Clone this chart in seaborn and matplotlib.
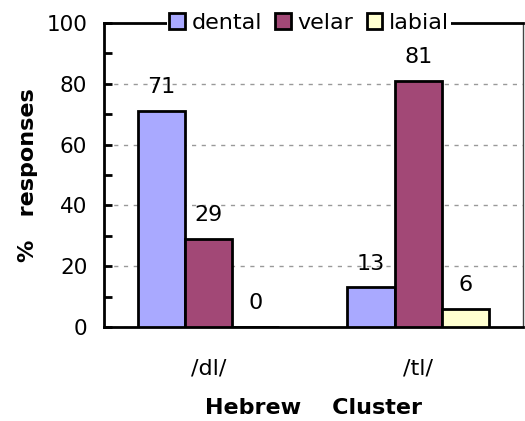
import matplotlib
matplotlib.use("Agg")
import matplotlib.pyplot as plt
import pandas as pd
import seaborn as sns
from matplotlib.ticker import MultipleLocator

# data
clusters = ["/dl/", "/tl/"]
responses = ["dental", "velar", "labial"]
dental = [71, 13]
velar = [29, 81]
labial = [0, 6]
colors = ["#A9A9FF", "#A24876", "#FFFFD0"]

df = pd.DataFrame({
    "cluster": clusters * 3,
    "response": [r for r in responses for _ in clusters],
    "pct": dental + velar + labial,
})

sns.set_style("white")
plt.rcParams["font.family"] = ["DejaVu Sans"]
plt.rcParams["text.color"] = "black"
plt.rcParams["axes.labelcolor"] = "black"
plt.rcParams["xtick.color"] = "black"
plt.rcParams["ytick.color"] = "black"

fig = plt.figure(figsize=(5.25, 4.21), dpi=100)
ax = fig.add_axes([0.198, 0.2233, 0.798, 0.7221])

sns.barplot(
    data=df, x="cluster", y="pct", hue="response",
    hue_order=responses, palette=colors,
    width=0.675, gap=0, edgecolor="black", linewidth=2,
    saturation=1, ax=ax, zorder=3,
)

for cont in ax.containers:
    ax.bar_label(cont, fmt="%d", padding=10, fontsize=16, color="black")

ax.set_ylim(0, 100)
ax.set_xlim(-0.5, 1.5)
ax.yaxis.set_major_locator(MultipleLocator(20))
ax.yaxis.set_minor_locator(MultipleLocator(10))
ax.set_xticks([0, 1])
ax.set_xticklabels(clusters, fontsize=16)
ax.set_xticks([-0.5, 0.5, 1.5], minor=True)
ax.tick_params(axis="x", which="major", length=0, pad=23)
ax.tick_params(axis="x", which="minor", direction="out", length=8, width=2)
ax.tick_params(axis="y", which="both", direction="in", length=6, width=2,
               labelsize=15.5, left=True, pad=12)

ax.yaxis.grid(True, linestyle=(0, (3, 4)), color="#999999", linewidth=1, zorder=0)
ax.set_axisbelow(True)

for side in ["left", "bottom", "top"]:
    ax.spines[side].set_linewidth(2)
    ax.spines[side].set_color("black")
ax.spines["right"].set_linewidth(1)
ax.spines["right"].set_color("#444444")

ax.set_ylabel("%   responses", fontsize=16, fontweight="bold", labelpad=6)
ax.set_xlabel("Hebrew    Cluster", fontsize=16, fontweight="bold", labelpad=14)

handles, labels = ax.get_legend_handles_labels()
leg = ax.legend(
    handles, labels, ncol=3, loc="center", bbox_to_anchor=(0.49, 1.0),
    frameon=True, fontsize=16, handlelength=0.7, handleheight=0.7,
    handletextpad=0.3, columnspacing=0.6, borderpad=0.1,
)
leg.get_frame().set_facecolor("white")
leg.get_frame().set_edgecolor("none")
leg.get_frame().set_alpha(1)
leg.set_zorder(5)

fig.savefig("out.png", dpi=100)
